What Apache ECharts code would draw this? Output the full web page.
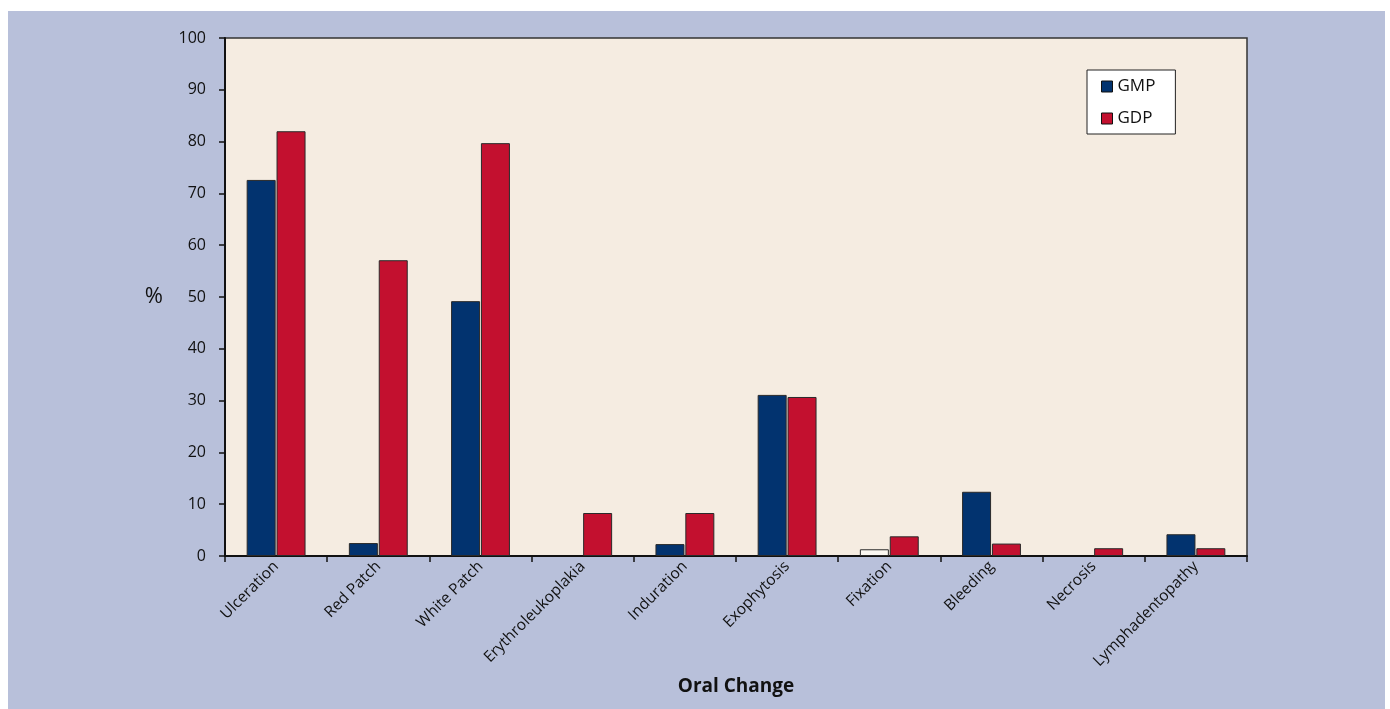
<!DOCTYPE html>
<html>
<head>
<meta charset="utf-8">
<script src="https://cdn.jsdelivr.net/npm/echarts@6/dist/echarts.min.js"></script>
<style>
  html, body { margin: 0; padding: 0; background: #fff; }
  #chart-panel { width: 1390px; height: 709px; }
</style>
</head>
<body>
<div id="chart-panel"></div>
<script>
// categories and values (percent)
var categories = ['Ulceration', 'Red Patch', 'White Patch', 'Erythroleukoplakia', 'Induration',
    'Exophytosis', 'Fixation', 'Bleeding', 'Necrosis', 'Lymphadentopathy'];
var gmpValues = [72.6, 2.5, 49.2, 0, 2.3, 31.1, 1.3, 12.4, 0, 4.2];
var gdpValues = [82.0, 57.1, 79.7, 8.3, 8.3, 30.7, 3.8, 2.4, 1.5, 1.5];

var gmpColor = '#02336f';
var gdpColor = '#c3102f';
var labelFont = 'Open Sans';

// zero values draw nothing; Fixation GMP bar is unfilled in the original
function toBarData(values, series) {
    return values.map(function (v, i) {
        if (v === 0) return '-';
        if (series === 'GMP' && categories[i] === 'Fixation') {
            return { value: v, itemStyle: { color: '#fbf8f2' } };
        }
        return v;
    });
}

var chartOption = {
    backgroundColor: '#ffffff',
    animation: false,
    graphic: [{
        type: 'rect',
        z: -10,
        shape: { x: 8, y: 11, width: 1377, height: 698 },
        style: { fill: '#b8c0da' }
    }],
    legend: {
        orient: 'vertical',
        left: 1087,
        top: 70,
        backgroundColor: '#ffffff',
        borderColor: '#222',
        borderWidth: 1,
        borderRadius: 0,
        padding: [8, 20, 7, 14],
        icon: 'rect',
        itemWidth: 11,
        itemHeight: 11,
        itemGap: 15,
        textStyle: { fontFamily: labelFont, fontSize: 17, color: '#111', width: 50 },
        data: [
            { name: 'GMP', itemStyle: { borderColor: '#111', borderWidth: 1 } },
            { name: 'GDP', itemStyle: { borderColor: '#111', borderWidth: 1 } }
        ]
    },
    grid: {
        show: true,
        left: 225,
        top: 38,
        right: 143,
        bottom: 153,
        backgroundColor: '#f5ece1',
        borderColor: '#333',
        borderWidth: 1.5
    },
    xAxis: {
        type: 'category',
        data: categories,
        name: 'Oral Change',
        nameLocation: 'middle',
        nameGap: 121,
        nameTextStyle: { fontFamily: labelFont, fontSize: 19, fontWeight: 'bold', color: '#111' },
        axisLine: { lineStyle: { color: '#111', width: 2 } },
        axisTick: { show: true, length: 6, lineStyle: { color: '#111', width: 1.5 } },
        axisLabel: {
            rotate: 45,
            interval: 0,
            margin: 8,
            fontFamily: labelFont,
            fontSize: 15.5,
            color: '#111'
        }
    },
    yAxis: {
        type: 'value',
        min: 0,
        max: 100,
        interval: 10,
        name: '%',
        nameLocation: 'middle',
        nameRotate: 0,
        nameGap: 62,
        nameTextStyle: { fontFamily: labelFont, fontSize: 22, color: '#111' },
        axisLine: { show: true, lineStyle: { color: '#111', width: 2 } },
        axisTick: { show: true, length: 6, lineStyle: { color: '#111', width: 1.5 } },
        axisLabel: { margin: 19, fontFamily: labelFont, fontSize: 16, color: '#111' },
        splitLine: { show: false }
    },
    series: [{
        name: 'GMP',
        type: 'bar',
        barWidth: 29,
        barGap: '3%',
        itemStyle: { color: gmpColor, borderColor: '#2a2a2a', borderWidth: 1 },
        data: toBarData(gmpValues, 'GMP')
    }, {
        name: 'GDP',
        type: 'bar',
        barWidth: 29,
        itemStyle: { color: gdpColor, borderColor: '#2a2a2a', borderWidth: 1 },
        data: toBarData(gdpValues, 'GDP')
    }]
};

var myChart = echarts.init(document.getElementById('chart-panel'));
myChart.setOption(chartOption);
</script>
</body>
</html>
